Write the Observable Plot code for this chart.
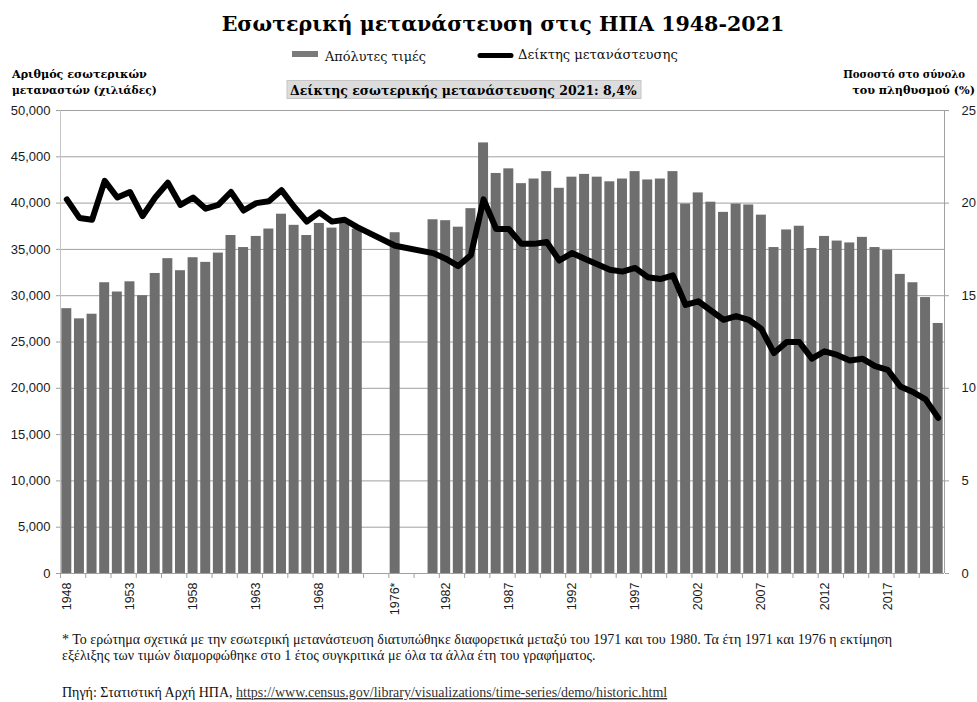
<!DOCTYPE html>
<html><head><meta charset="utf-8">
<script src="https://cdn.jsdelivr.net/npm/d3@7"></script>
<script src="https://cdn.jsdelivr.net/npm/@observablehq/plot@0.6"></script>
<style>
body{margin:0;background:#fff}
#wrap{position:relative;width:977px;height:702px;overflow:hidden;background:#fff}
#wrap > svg{position:absolute;left:0;top:0}
</style></head><body><div id="wrap"></div>
<script>
// Categories on the x axis (gaps are empty categories)
const categories = ["1948","1949","1950","1951","1952","1953","1954","1955","1956","1957","1958","1959","1960","1961","1962","1963","1964","1965","1966","1967","1968","1969","1970","1971","gap1","gap2","1976*","gap3","gap4","1981","1982","1983","1984","1985","1986","1987","1988","1989","1990","1991","1992","1993","1994","1995","1996","1997","1998","1999","2000","2001","2002","2003","2004","2005","2006","2007","2008","2009","2010","2011","2012","2013","2014","2015","2016","2017","2018","2019","2020","2021"];
// Absolute values (thousands of internal migrants)
const migrants = [28600,27500,28000,31400,30400,31500,30000,32400,34000,32700,34100,33600,34600,36500,35200,36400,37200,38800,37600,36500,37800,37300,37800,37200,null,null,36800,null,null,38200,38100,37400,39400,46500,43200,43700,42100,42600,43400,41600,42800,43100,42800,42300,42600,43400,42500,42600,43400,39900,41100,40100,39000,39900,39800,38700,35200,37100,37500,35100,36400,35900,35700,36300,35200,34900,32300,31400,29800,27000];
// Migration rate (% of population)
const rates = [20.2,19.2,19.1,21.2,20.3,20.6,19.3,20.3,21.1,19.9,20.3,19.7,19.9,20.6,19.6,20.0,20.1,20.7,19.8,19.0,19.5,19.0,19.1,18.7,null,null,17.7,null,null,17.3,17.0,16.6,17.2,20.2,18.6,18.6,17.8,17.8,17.9,16.9,17.3,17.0,16.7,16.4,16.3,16.5,16.0,15.9,16.1,14.5,14.7,14.2,13.7,13.9,13.7,13.2,11.9,12.5,12.5,11.6,12.0,11.8,11.5,11.6,11.2,11.0,10.1,9.8,9.4,8.4];
const xTickLabels = ["1948","1953","1958","1963","1968","1976*","1982","1987","1992","1997","2002","2007","2012","2017"];
const leftTicks = [0,5000,10000,15000,20000,25000,30000,35000,40000,45000,50000];
const rightTicks = [0,5,10,15,20,25];

const rows = categories.map((c, i) => ({cat: c, value: migrants[i], rate: rates[i]}));
const leftMax = 50000, rightMax = 25, k = leftMax / rightMax;
const W = 977, H = 702, mL = 60, mR = 33, mT = 110, mB = 129;
const step = (W - mL - mR) / categories.length;
const axisGray = "#a0a0a0";

const chart = Plot.plot({
  width: W, height: H,
  marginLeft: mL, marginRight: mR, marginTop: mT, marginBottom: mB,
  style: {fontFamily: "'Liberation Sans', Arial, sans-serif", fontSize: "12px", color: "#1a1a1a", background: "transparent"},
  x: {type: "band", domain: categories, paddingInner: 0.21, paddingOuter: 0.105, align: 0.5},
  y: {domain: [0, leftMax]},
  marks: [
    Plot.gridY(leftTicks, {stroke: axisGray, strokeOpacity: 1, strokeWidth: 1}),
    Plot.barY(rows.filter(d => d.value != null), {x: "cat", y: "value", fill: "#6e6e6e"}),
    Plot.ruleY([0], {stroke: axisGray}),
    Plot.ruleX([categories[0]], {dx: -step / 2, y1: 0, y2: leftMax, stroke: "#c4c4c4"}),
    Plot.ruleX([categories[categories.length - 1]], {dx: step / 2, y1: 0, y2: leftMax, stroke: axisGray}),
    Plot.line(rows.filter(d => d.rate != null), {x: "cat", y: d => d.rate * k, stroke: "#000", strokeWidth: 6, strokeLinejoin: "round", strokeLinecap: "round"}),
    Plot.axisY({ticks: leftTicks, tickFormat: d3.format(","), tickSize: 4, tickPadding: 6, stroke: axisGray, label: null, fontSize: 13}),
    Plot.axisY({anchor: "right", ticks: rightTicks.map(v => v * k), tickFormat: d => String(d / k), tickSize: 4, tickPadding: 13, stroke: axisGray, label: null, fontSize: 13}),
    Plot.axisX({ticks: xTickLabels, tickRotate: -90, tickSize: 0, tickPadding: 9, label: null, fontSize: 12.5}),
    Plot.axisX({ticks: categories.filter((d, i) => i % 2 === 0), tickSize: 5, tickFormat: () => "", dx: -step / 2, stroke: axisGray, label: null})
  ]
});
const wrap = document.getElementById("wrap");
wrap.appendChild(chart);

// Overlay texts
const ov = d3.select(wrap).append("svg").attr("width", W).attr("height", H).style("pointer-events", "none");
const serif = "'DejaVu Serif', 'Liberation Serif', serif";
function fitWidth(t, w) {
  const L = t.node().getComputedTextLength();
  const fs = parseFloat(t.attr("font-size"));
  if (L > 0) t.attr("font-size", fs * w / L);
  return t;
}
function txt(x, y, s, {size = 12, weight = "normal", anchor = "start", family = serif, fill = "#111"} = {}) {
  return ov.append("text").attr("x", x).attr("y", y).attr("font-size", size).attr("font-weight", weight)
    .attr("font-family", family).attr("text-anchor", anchor).attr("fill", fill).text(s);
}
// Title
fitWidth(txt(503, 31, "Εσωτερική μετανάστευση στις ΗΠΑ 1948-2021", {size: 24, weight: "bold", anchor: "middle", fill: "#000"}), 563);
// Legend
ov.append("rect").attr("x", 292).attr("y", 51).attr("width", 26).attr("height", 6).attr("fill", "#7a7a7a");
fitWidth(txt(325, 61, "Απόλυτες τιμές", {size: 14}), 101);
ov.append("line").attr("x1", 480).attr("x2", 511).attr("y1", 55.5).attr("y2", 55.5).attr("stroke", "#000").attr("stroke-width", 5).attr("stroke-linecap", "round");
fitWidth(txt(518, 59, "Δείκτης μετανάστευσης", {size: 14}), 160);
// Highlight box
ov.append("rect").attr("x", 287).attr("y", 80.5).attr("width", 354).attr("height", 18).attr("fill", "#dcdcdc").attr("stroke", "#c6c6c6");
fitWidth(txt(290, 95, "Δείκτης εσωτερικής μετανάστευσης 2021: 8,4%", {size: 14, weight: "bold", fill: "#000"}), 347);
// Axis titles
fitWidth(txt(12, 77.5, "Αριθμός εσωτερικών", {size: 12, weight: "bold", fill: "#000"}), 135);
fitWidth(txt(12, 93.5, "μεταναστών (χιλιάδες)", {size: 12, weight: "bold", fill: "#000"}), 145);
fitWidth(txt(965, 77.5, "Ποσοστό στο σύνολο", {size: 12, weight: "bold", anchor: "end", fill: "#000"}), 122);
fitWidth(txt(975, 93.5, "του πληθυσμού (%)", {size: 12, weight: "bold", anchor: "end", fill: "#000"}), 123);
// Footnotes
const fnFamily = "'Liberation Serif', serif";
const fn1 = fitWidth(txt(62, 644, "* Το ερώτημα σχετικά με την εσωτερική μετανάστευση διατυπώθηκε διαφορετικά μεταξύ του 1971 και του 1980. Τα έτη 1971 και 1976 η εκτίμηση", {size: 12.5, family: fnFamily}), 855);
const fnSize = Math.min(14, parseFloat(fn1.attr("font-size")));
fn1.attr("font-size", fnSize);
txt(62, 660, "εξέλιξης των τιμών διαμορφώθηκε στο 1 έτος συγκριτικά με όλα τα άλλα έτη του γραφήματος.", {size: fnSize, family: fnFamily});
const src = txt(62, 697, "", {size: fnSize, family: fnFamily});
src.append("tspan").text("Πηγή: Στατιστική Αρχή ΗΠΑ, ");
src.append("tspan").attr("text-decoration", "underline").attr("fill", "#333").text("https://www.census.gov/library/visualizations/time-series/demo/historic.html");
</script></body></html>
